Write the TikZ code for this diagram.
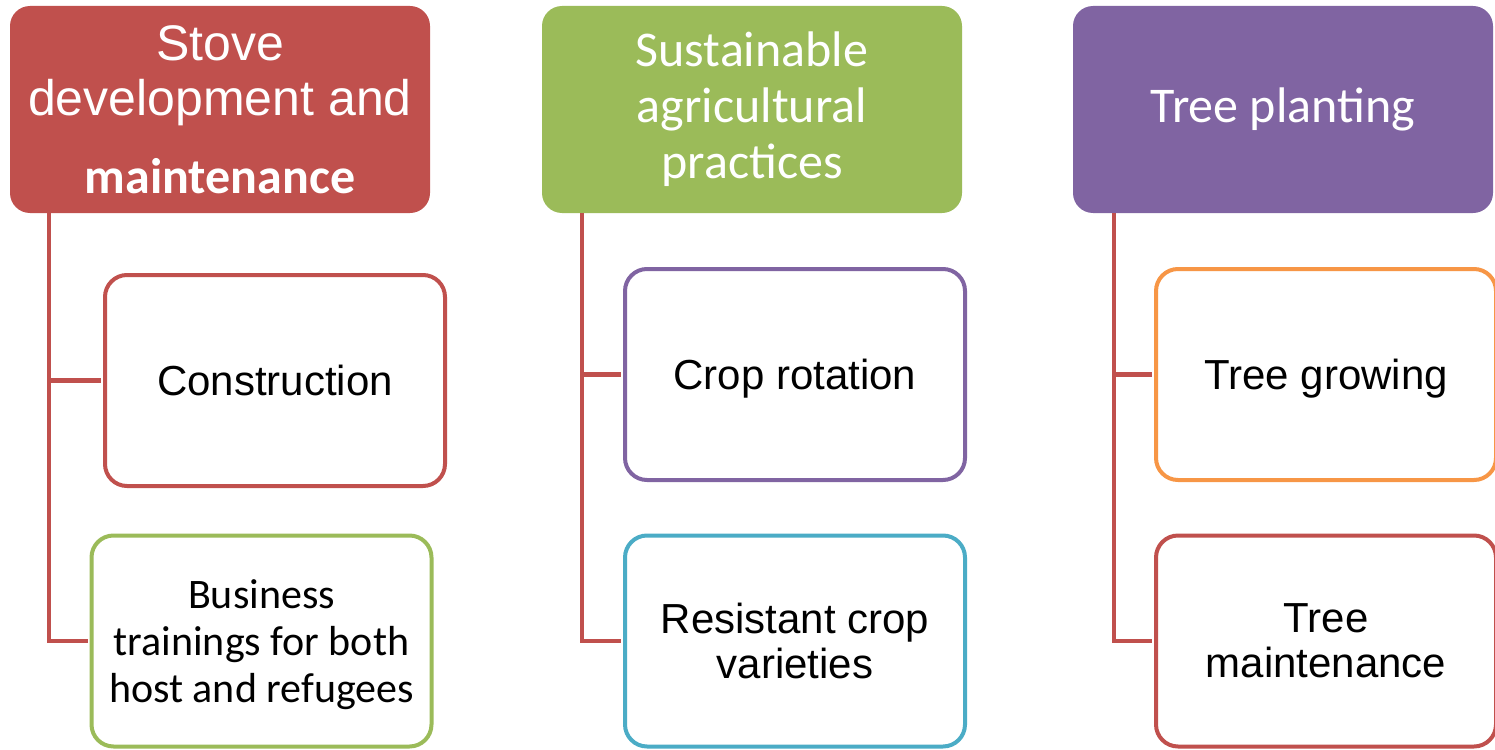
\documentclass[tikz,border=0pt]{standalone}
\usepackage{fontspec}
\setmainfont{Liberation Sans}
\newfontfamily\calibrifont{Carlito}
\usepackage{xcolor}
\usepackage{tikz}
\usetikzlibrary{positioning}
\definecolor{stovered}{RGB}{192,80,77}
\definecolor{agrigreen}{RGB}{155,187,89}
\definecolor{treepurple}{RGB}{128,100,162}
\definecolor{groworange}{RGB}{247,150,70}
\definecolor{cropteal}{RGB}{75,172,198}
\tikzset{
  headbox/.style={
    rectangle,
    rounded corners=20pt,
    draw=none,
    text=white,
    align=center,
    minimum width=420pt,
    minimum height=207pt,
    inner sep=0pt
  },
  taskbox/.style={
    rectangle,
    rounded corners=22pt,
    line width=4pt,
    fill=white,
    align=center,
    minimum width=340pt,
    minimum height=211pt,
    inner sep=0pt,
    text depth=0pt,
    font=\fontsize{42}{45}\selectfont
  },
  branch/.style={
    draw=stovered,
    line width=4.5pt,
    shorten >=2pt
  }
}

\begin{document}
\begin{tikzpicture}[x=1pt, y=-1pt]
\useasboundingbox (0,0) rectangle (1495,749);
\clip (0,0) rectangle (1495,749);
\node[headbox, fill=stovered, font=\fontsize{50}{55}\selectfont] (stove) at (220,109.5) {Stove\\development and\\[23pt]{\calibrifont\bfseries maintenance}};
\node[headbox, fill=agrigreen, font=\calibrifont\fontsize{50}{56}\selectfont] (agri) at (752,109.5) {Sustainable\\agricultural\\practices};
\node[headbox, fill=treepurple, font=\calibrifont\fontsize{50}{56}\selectfont] (plant) at (1283,109.5) {Tree planting};

\node[taskbox, draw=stovered] (construct) at (275,380.5) {Construction};
\node[taskbox, draw=agrigreen, font=\calibrifont\fontsize{42}{47}\selectfont] (business) at (261.5,641) {Business\\trainings for both\\host and refugees};
\node[taskbox, draw=treepurple] (rotation) at (795,374.5) {Crop rotation};
\node[taskbox, draw=cropteal] (resist) at (795,641) {Resistant crop\\varieties};
\node[taskbox, draw=groworange] (grow) at (1326,374.5) {Tree growing};
\node[taskbox, draw=stovered] (maintain) at (1326,641) {Tree\\maintenance};

\draw[branch] ([xshift=39pt]stove.south west) |- (construct.west);
\draw[branch] ([xshift=39pt]stove.south west) |- (business.west);
\draw[branch] ([xshift=40pt]agri.south west) |- (rotation.west);
\draw[branch] ([xshift=40pt]agri.south west) |- (resist.west);
\draw[branch] ([xshift=41pt]plant.south west) |- (grow.west);
\draw[branch] ([xshift=41pt]plant.south west) |- (maintain.west);
\end{tikzpicture}
\end{document}
